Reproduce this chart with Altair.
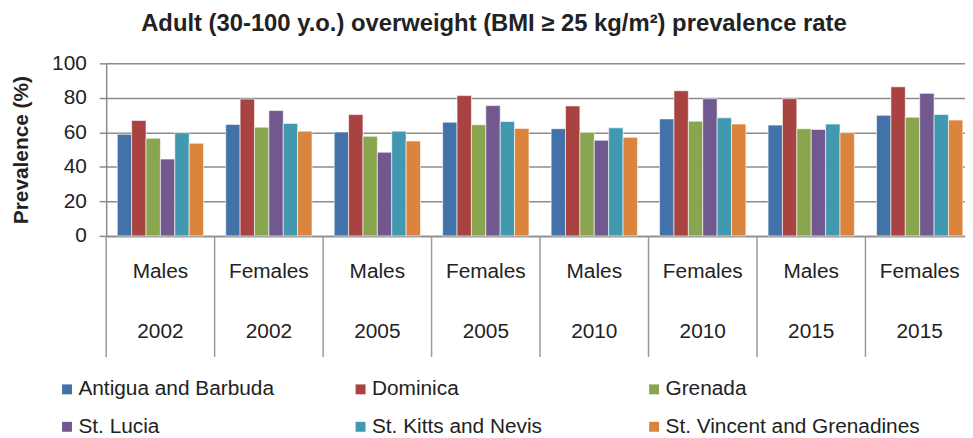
import altair as alt
import pandas as pd

countries = ["Antigua and Barbuda", "Dominica", "Grenada",
             "St. Lucia", "St. Kitts and Nevis", "St. Vincent and Grenadines"]
colors = ["#4272A8", "#A84341", "#89A54E", "#71588F", "#4198AF", "#DB843D"]

sexes = ["Males", "Females", "Males", "Females", "Males", "Females", "Males", "Females"]
years = ["2002", "2002", "2005", "2005", "2010", "2010", "2015", "2015"]

# values per group, in country order
antigua = [58.9, 64.6, 60.2, 65.9, 62.1, 67.8, 64.2, 69.9]
dominica = [66.9, 79.3, 70.3, 81.3, 75.3, 84.1, 79.5, 86.4]
grenada = [56.6, 63.0, 57.7, 64.4, 60.0, 66.5, 62.1, 68.8]
st_lucia = [44.5, 72.6, 48.5, 75.5, 55.4, 79.5, 61.7, 82.6]
st_kitts = [59.8, 65.2, 60.7, 66.3, 62.6, 68.4, 64.8, 70.3]
st_vincent = [53.7, 60.7, 55.0, 62.3, 57.1, 64.8, 59.8, 67.1]

series = [antigua, dominica, grenada, st_lucia, st_kitts, st_vincent]
groups = [f"{s}|{y}" for s, y in zip(sexes, years)]

rows = []
for c, vals in zip(countries, series):
    for g, v in zip(groups, vals):
        rows.append({"group": g, "country": c, "value": v})
df = pd.DataFrame(rows)
sep_df = pd.DataFrame({"group": groups})

FONT = "Liberation Sans"
GRID = "#8c8c8c"
TXT = "#222222"
PAD_L = 99
PAD_T = 54
W = 973 - 8 - PAD_L      # visible plot width (chart is cut at the right edge)
H = 174
BAND_RANGE = 875         # full extent of the 8 groups

x_scale = alt.Scale(domain=groups, range=[0, BAND_RANGE], paddingInner=0, paddingOuter=0)
x_axis = alt.Axis(title=None, labelExpr="split(datum.label, '|')",
                  labelLineHeight=60, labelFontSize=21, labelFont=FONT,
                  labelColor=TXT, labelAngle=0, labelAlign="center",
                  labelBaseline="top", ticks=False, tickSize=0,
                  labelPadding=25, domainColor=GRID, domainWidth=1.5,
                  labelLimit=200)

bars = alt.Chart(df).mark_bar(stroke="white", strokeWidth=0.6).encode(
    x=alt.X("group:N", scale=x_scale, sort=groups, axis=x_axis),
    xOffset=alt.XOffset("country:N", sort=countries,
                        scale=alt.Scale(paddingOuter=0.77, paddingInner=0)),
    y=alt.Y("value:Q", scale=alt.Scale(domain=[0, 100]),
            axis=alt.Axis(title="Prevalence (%)", values=[0, 20, 40, 60, 80, 100],
                          titleFontSize=21, titleFont=FONT, titleFontWeight="bold",
                          titleColor=TXT, titlePadding=20,
                          labelFontSize=21, labelFont=FONT, labelColor=TXT,
                          labelPadding=13, tickSize=7, tickColor=GRID, tickWidth=1.5,
                          gridColor=GRID, gridWidth=1.5, domainColor=GRID,
                          domainWidth=1.5)),
    color=alt.Color("country:N", sort=countries,
                    scale=alt.Scale(domain=countries, range=colors),
                    legend=alt.Legend(title=None, orient="none", legendX=-50, legendY=318,
                                      direction="horizontal", columns=3, gridAlign="all",
                                      symbolType="square", symbolSize=100,
                                      symbolStrokeWidth=0, labelFontSize=21,
                                      labelFont=FONT, labelColor=TXT, labelLimit=400,
                                      columnPadding=17, rowPadding=16, labelOffset=1,
                                      padding=0)),
)

seps = alt.Chart(sep_df).mark_rule(color="#9a9a9a", strokeWidth=1.5).encode(
    x=alt.X("group:N", sort=groups, bandPosition=0, axis=x_axis),
    y=alt.value(H),
    y2=alt.value(H + 122),
)

chart = alt.layer(bars, seps).properties(
    width=W, height=H,
    autosize=alt.AutoSizeParams(type="none"),
    padding={"left": PAD_L, "top": PAD_T, "right": 0, "bottom": 438 - 8 - PAD_T - H},
    title=alt.TitleParams("Adult (30-100 y.o.) overweight (BMI \u2265 25 kg/m\u00b2) prevalence rate",
                          fontSize=24, font=FONT, fontWeight="bold", color=TXT,
                          anchor="middle", frame="group", dx=-42, offset=17),
).configure_view(stroke=None)

chart.save("out.html", embed_options={"renderer": "svg", "actions": False})
